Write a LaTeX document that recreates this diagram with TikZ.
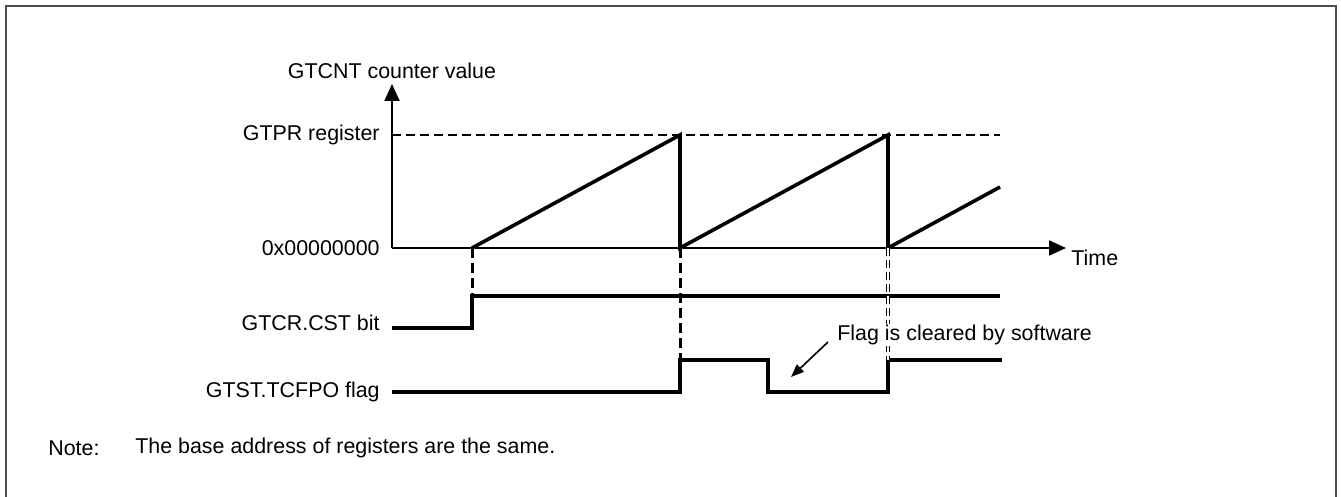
\documentclass[tikz,border=0pt]{standalone}
\usepackage{fontspec}
\setmainfont{Liberation Sans}
\usetikzlibrary{arrows.meta,positioning}

\begin{document}
\begin{tikzpicture}[
	x=0.5pt, y=-0.5pt,
	every node/.style = {font=\fontsize{10.7}{13}\selectfont, inner sep=1pt},
	axisline/.style   = {line width=1.1pt, -{Triangle[length=8.5pt,width=7.5pt]}},
	wave/.style       = {line width=1.8pt, line join=miter},
	limitline/.style  = {line width=1.1pt, dash pattern=on 4.5pt off 2.5pt},
	guide/.style      = {line width=1.5pt, dash pattern=on 5pt off 2.5pt},
	hollowguide/.style= {draw=black, line width=0.35pt, double=white, double distance=1pt,
		dash pattern=on 4pt off 2pt},
	siglabel/.style   = {anchor=east},
	pointer/.style    = {line width=0.8pt, -{Triangle[length=6.5pt,width=5pt]}},
	frame/.style      = {draw=black!70, line width=1pt}
	]
	
	\useasboundingbox (0,0) rectangle (1341,497);
	\draw[frame] (6,6) rectangle (1336,520);
	
	% ===================== Counter axes =====================
	\coordinate (origin) at (392,248);
	\coordinate (ytop)   at (392,84);
	\coordinate (xend)   at (1066,248);
	\coordinate (prL)    at (392,135);
	\coordinate (prR)    at (1000,135);
	
	\draw[axisline] (origin) -- (ytop);
	\draw[axisline] (origin) -- (xend);
	\draw[limitline] (prL) -- (prR);
	
	\node (ytitle) at (392,71) {GTCNT counter value};
	\node[anchor=west] (xtitle) at (1069,258) {Time};
	\node[siglabel] (lblPR)   at (382,135) {GTPR register};
	\node[siglabel] (lblZero) at (382,248) {0x00000000};
	
	% ===================== Sawtooth =====================
	\coordinate (r0)   at (472,248);
	\coordinate (p1)   at (680,135);
	\coordinate (z1)   at (680,248);
	\coordinate (p2)   at (888,135);
	\coordinate (z2)   at (888,248);
	\coordinate (rend) at (1000,187);
	
	\draw[wave] (r0) -- (p1) -- (z1) -- (p2) -- (z2) -- (rend);
	
	% ===================== GTCR.CST bit =====================
	\coordinate (cstA)   at (392,328);
	\coordinate (cstUp)  at (472,328);
	\coordinate (cstHi)  at (472,296);
	\coordinate (cstEnd) at (1000,296);
	
	\draw[wave] (cstA) -- (cstUp) -- (cstHi) -- (cstEnd);
	\node[siglabel] (lblCST) at (382,323) {GTCR.CST bit};
	
	% ===================== GTST.TCFPO flag =====================
	\coordinate (flA)   at (392,392);
	\coordinate (fl1)   at (680,392);
	\coordinate (fl1h)  at (680,360);
	\coordinate (fl2)   at (768,360);
	\coordinate (fl2l)  at (768,392);
	\coordinate (fl3)   at (888,392);
	\coordinate (fl3h)  at (888,360);
	\coordinate (flEnd) at (1002,360);
	
	\draw[wave] (flA) -- (fl1) -- (fl1h) -- (fl2) -- (fl2l) -- (fl3) -- (fl3h) -- (flEnd);
	\node[siglabel] (lblFlag) at (382,392) {GTST.TCFPO flag};
	
	% ===================== Timing guides =====================
	\draw[guide] (r0) -- (cstHi);
	\draw[guide] (z1) -- (fl1h);
	\draw[hollowguide] (z2) -- (fl3h);
	
	\node[anchor=west, fill=white, inner sep=0.5pt] (clearnote) at (836,335) {Flag is cleared by software};
	\coordinate (clearTip) at (791,377);
	\draw[pointer] (828,342) -- (clearTip);
	
	% ===================== Note =====================
	\node[anchor=west] (noteHead) at (46,448) {Note:};
	\node[anchor=west] (noteBody) at (133,448) {The base address of registers are the same.};
	
\end{tikzpicture}
\end{document}
